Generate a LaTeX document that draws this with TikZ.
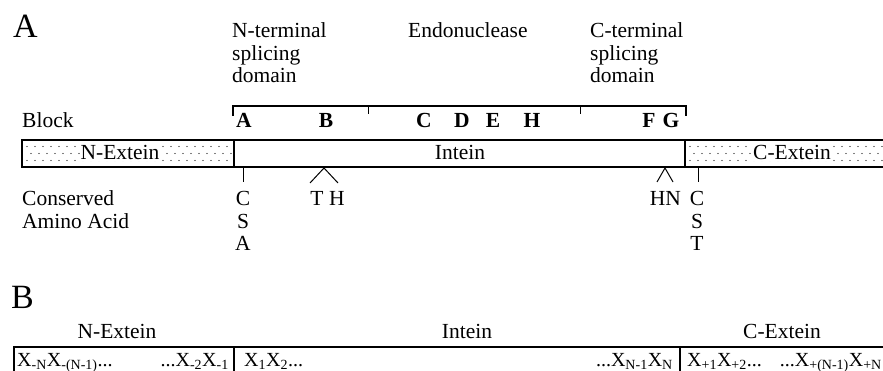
\documentclass[tikz,border=0pt]{standalone}
\usepackage{fontspec}
\setmainfont{Liberation Serif}
\begin{document}
\begin{tikzpicture}[x=1pt,y=-1pt,
  txt/.style={font=\fontsize{21.5}{22.5}\selectfont, inner sep=0pt},
  boxtxt/.style={font=\fontsize{20}{22}\selectfont, inner sep=0pt},
  big/.style={font=\fontsize{34}{36}\selectfont, inner sep=0pt, anchor=base west},
  blk/.style={font=\fontsize{21.5}{22.5}\selectfont\bfseries, inner sep=0pt, anchor=base},
  lbl/.style={txt, fill=white, inner sep=1pt, anchor=base},
  barline/.style={line width=1.3pt},
  thinline/.style={line width=1pt},
  dotfill/.style={fill=black}
]
\useasboundingbox (0,0) rectangle (883,371);
\clip (0,0) rectangle (883,371);

% ---------- Panel A ----------
\node[big] (panA) at (13,38) {A};

\node[txt,anchor=base west] (nt1) at (232,38) {N-terminal};
\node[txt,anchor=base west] (nt2) at (232,60.5) {splicing};
\node[txt,anchor=base west] (nt3) at (232,83) {domain};
\node[txt,anchor=base west] (endo) at (408,38) {Endonuclease};
\node[txt,anchor=base west] (ct1) at (590,38) {C-terminal};
\node[txt,anchor=base west] (ct2) at (590,60.5) {splicing};
\node[txt,anchor=base west] (ct3) at (590,83) {domain};

% bracket
\coordinate (brL) at (233,106);
\coordinate (brR) at (686,106);
\coordinate (brLd) at (233,116);
\coordinate (brRd) at (686,116);
\coordinate (tk1) at (368,106);
\coordinate (tk1d) at (368,114);
\coordinate (tk2) at (580,106);
\coordinate (tk2d) at (580,114);
\draw[barline] (brLd) -- (brL) -- (brR) -- (brRd);
\draw[thinline] (tk1) -- (tk1d);
\draw[thinline] (tk2) -- (tk2d);

% block row
\node[txt,anchor=base west] (block) at (22,128) {Block};
\foreach \l/\x in {A/244,B/326,C/424,D/462,E/493,H/532,F/649,G/671}
  \node[blk] (blk\l) at (\x,128) {\l};

% dotted texture in exteins
\foreach \yy/\off in {146.5/0,153.5/4,160.5/0}{
  \foreach \xx in {27,35,...,227}
    \fill[dotfill] (\xx+\off,\yy) circle (0.6pt);
  \foreach \xx in {690,698,...,882}
    \fill[dotfill] (\xx+\off,\yy) circle (0.6pt);
}
\node[lbl] (nex) at (120,160) {N-Extein};
\node[txt,anchor=base] (int) at (460,160) {Intein};
\node[lbl] (cex) at (792,160) {C-Extein};

% bar outline
\coordinate (barTL) at (22,140);
\coordinate (barBL) at (22,167);
\coordinate (barTR) at (890,140);
\coordinate (barBR) at (890,167);
\coordinate (d1t) at (234,140);
\coordinate (d1b) at (234,167);
\coordinate (d2t) at (685,140);
\coordinate (d2b) at (685,167);
\draw[barline] (barTR) -- (barTL) -- (barBL) -- (barBR);
\draw[barline] (d1t) -- (d1b);
\draw[barline] (d2t) -- (d2b);

% conserved amino acids
\node[txt,anchor=base west] (cons1) at (22,206) {Conserved};
\node[txt,anchor=base west] (cons2) at (22,228.5) {Amino Acid};

\coordinate (m1t) at (243,167);
\coordinate (m1b) at (243,182);
\draw[thinline] (m1t) -- (m1b);
\node[txt,anchor=base] (aC1) at (243,206) {C};
\node[txt,anchor=base] (aS1) at (243,228.5) {S};
\node[txt,anchor=base] (aA1) at (243,251) {A};

\coordinate (w1a) at (324,168);
\coordinate (w1l) at (310,183);
\coordinate (w1r) at (338,183);
\draw[thinline] (w1l) -- (w1a) -- (w1r);
\node[txt,anchor=base] (aT) at (317,206) {T};
\node[txt,anchor=base] (aH) at (337,206) {H};

\coordinate (w2a) at (665,168);
\coordinate (w2l) at (657,182);
\coordinate (w2r) at (673,182);
\draw[thinline] (w2l) -- (w2a) -- (w2r);
\node[txt,anchor=base east] (aHN) at (681,206) {HN};

\coordinate (m2t) at (698,167);
\coordinate (m2b) at (698,182);
\draw[thinline] (m2t) -- (m2b);
\node[txt,anchor=base] (aC2) at (697,206) {C};
\node[txt,anchor=base] (aS2) at (697,228.5) {S};
\node[txt,anchor=base] (aT2) at (697,251) {T};

% ---------- Panel B ----------
\node[big] (panB) at (11,308) {B};
\node[txt,anchor=base] (bnex) at (117,338) {N-Extein};
\node[txt,anchor=base] (bint) at (467,338) {Intein};
\node[txt,anchor=base] (bcex) at (782,338) {C-Extein};

\coordinate (bxTR) at (890,347);
\coordinate (bxTL) at (14,347);
\coordinate (bxBL) at (14,380);
\coordinate (e1t) at (234,347);
\coordinate (e1b) at (234,380);
\coordinate (e2t) at (680,347);
\coordinate (e2b) at (680,380);
\draw[barline] (bxTR) -- (bxTL) -- (bxBL);
\draw[barline] (e1t) -- (e1b);
\draw[barline] (e2t) -- (e2b);

\node[boxtxt,anchor=base west] (s1) at (17,366) {X\textsubscript{-N}X\textsubscript{-(N-1)}...};
\node[boxtxt,anchor=base east] (s2) at (229,366) {...X\textsubscript{-2}X\textsubscript{-1}};
\node[boxtxt,anchor=base west] (s3) at (244,366) {X\textsubscript{1}X\textsubscript{2}...};
\node[boxtxt,anchor=base east] (s4) at (673,366) {...X\textsubscript{N-1}X\textsubscript{N}};
\node[boxtxt,anchor=base west] (s5) at (687,366) {X\textsubscript{+1}X\textsubscript{+2}...};
\node[boxtxt,anchor=base east] (s6) at (882,366) {...X\textsubscript{+(N-1)}X\textsubscript{+N}};
\end{tikzpicture}
\end{document}
